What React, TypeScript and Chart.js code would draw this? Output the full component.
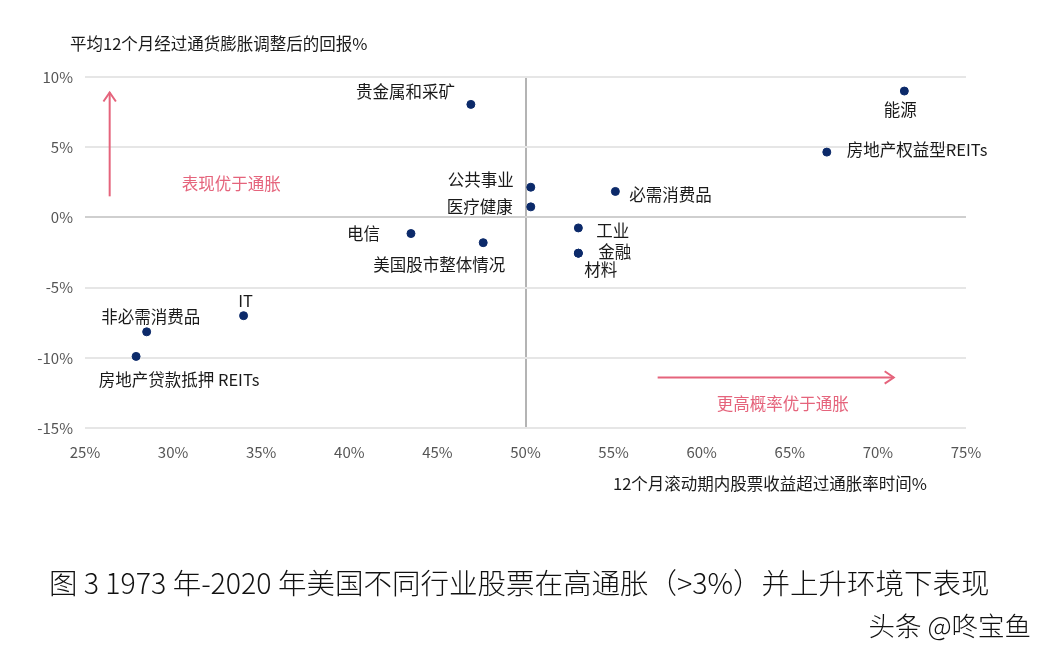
import React, { useEffect, useRef } from "react";
import { Chart, registerables } from "chart.js";

Chart.register(...registerables);

const sectors = [
  "能源",
  "房地产权益型REITs",
  "贵金属和采矿",
  "公共事业",
  "医疗健康",
  "必需消费品",
  "工业",
  "金融",
  "材料",
  "电信",
  "美国股市整体情况",
  "IT",
  "非必需消费品",
  "房地产贷款抵押 REITs",
];
const beatTimePct = [71.5, 67.1, 46.9, 50.3, 50.3, 55.1, 53.0, 53.0, 53.0, 43.5, 47.6, 34.0, 28.5, 27.9];
const realReturnPct = [9.0, 4.65, 8.05, 2.15, 0.75, 1.85, -0.75, -2.55, -2.55, -1.15, -1.8, -7.0, -8.15, -9.9];

const xTicks = [25, 30, 35, 40, 45, 50, 55, 60, 65, 70, 75];
const yTicks = [10, 5, 0, -5, -10, -15];

const yAxisTitle = "平均12个月经过通货膨胀调整后的回报%";
const xAxisTitle = "12个月滚动期内股票收益超过通胀率时间%";
const upNote = "表现优于通胀";
const rightNote = "更高概率优于通胀";
const caption = "图 3 1973 年-2020 年美国不同行业股票在高通胀（>3%）并上升环境下表现";
const watermark = "头条 @咚宝鱼";

// label placement style: [dx, dy, align]
const labelStyle: Record<string, [number, number, CanvasTextAlign]> = {
  "能源": [-4, 19, "center"],
  "房地产权益型REITs": [20, -2, "left"],
  "贵金属和采矿": [-16, -13, "right"],
  "公共事业": [-17, -7, "right"],
  "医疗健康": [-18, 0, "right"],
  "必需消费品": [14, 3, "left"],
  "工业": [18, 3, "left"],
  "金融": [20, -1, "left"],
  "材料": [6, 17, "left"],
  "电信": [-31, 0, "right"],
  "美国股市整体情况": [-44, 22, "center"],
  "IT": [2, -15, "center"],
  "非必需消费品": [4, -15, "center"],
  "房地产贷款抵押 REITs": [43, 23, "center"],
};

const FONT = "'Noto Sans CJK SC', 'Noto Sans', sans-serif";
const PINK = "#e5647c";

export default function App() {
  const ref = useRef<HTMLCanvasElement | null>(null);
  useEffect(() => {
    if (!ref.current) return;
    const annot = {
      id: "annot",
      afterDatasetsDraw(chart: any) {
        const { ctx, scales } = chart;
        const xs = scales.x, ys = scales.y;
        ctx.save();
        ctx.fillStyle = "#1a1a1a";
        ctx.font = `16.5px ${FONT}`;
        ctx.textBaseline = "middle";
        sectors.forEach((s, i) => {
          const st = labelStyle[s] || [10, 0, "left"];
          ctx.textAlign = st[2];
          ctx.fillText(s, xs.getPixelForValue(beatTimePct[i]) + st[0], ys.getPixelForValue(realReturnPct[i]) + st[1]);
        });
        // arrows
        const arrow = (x1: number, y1: number, x2: number, y2: number) => {
          ctx.strokeStyle = PINK;
          ctx.lineWidth = 2;
          ctx.beginPath();
          ctx.moveTo(x1, y1);
          ctx.lineTo(x2, y2);
          ctx.stroke();
          const ang = Math.atan2(y2 - y1, x2 - x1);
          const L = 11;
          ctx.beginPath();
          ctx.moveTo(x2 - L * Math.cos(ang - 0.6), y2 - L * Math.sin(ang - 0.6));
          ctx.lineTo(x2, y2);
          ctx.lineTo(x2 - L * Math.cos(ang + 0.6), y2 - L * Math.sin(ang + 0.6));
          ctx.stroke();
        };
        arrow(xs.getPixelForValue(26.4), ys.getPixelForValue(1.5), xs.getPixelForValue(26.4), ys.getPixelForValue(8.9));
        arrow(xs.getPixelForValue(57.5), ys.getPixelForValue(-11.4), xs.getPixelForValue(70.9), ys.getPixelForValue(-11.4));
        ctx.fillStyle = PINK;
        ctx.textAlign = "center";
        ctx.font = `16.5px ${FONT}`;
        ctx.fillText(upNote, xs.getPixelForValue(33.3), ys.getPixelForValue(2.4));
        ctx.fillText(rightNote, xs.getPixelForValue(64.6), ys.getPixelForValue(-13.25));
        // axis titles
        ctx.fillStyle = "#1a1a1a";
        ctx.font = `16.5px ${FONT}`;
        ctx.textAlign = "left";
        ctx.fillText(yAxisTitle, 70, 44);
        ctx.textAlign = "center";
        ctx.fillText(xAxisTitle, 770, 484);
        // caption
        ctx.font = `300 28.5px ${FONT}`;
        ctx.textAlign = "left";
        ctx.fillStyle = "#111";
        ctx.fillText(caption, 49, 583);
        ctx.font = `300 26.5px ${FONT}`;
        ctx.textAlign = "right";
        ctx.fillText(watermark, 1031, 626);
        ctx.restore();
      },
    };
    const chart = new Chart(ref.current, {
      type: "scatter",
      data: {
        datasets: [
          {
            data: beatTimePct.map((x, i) => ({ x, y: realReturnPct[i] })),
            backgroundColor: "#0c2a6a",
            borderColor: "#0c2a6a",
            pointRadius: 4,
          },
        ],
      },
      options: {
        animation: false,
        responsive: false,
        devicePixelRatio: 1,
        layout: { padding: { left: 25, top: 77, right: 85, bottom: 199 } },
        plugins: { legend: { display: false }, tooltip: { enabled: false } },
        scales: {
          x: {
            type: "linear",
            min: 25,
            max: 75,
            afterBuildTicks: (s: any) => { s.ticks = xTicks.map((v) => ({ value: v })); },
            afterFit: (s: any) => { s.height = 30; },
            border: { display: false },
            grid: {
              drawTicks: false,
              lineWidth: 2,
              color: (c: any) => (c.tick && c.tick.value === 50 ? "#b4b4b4" : "rgba(0,0,0,0)"),
            },
            ticks: {
              padding: 15,
              color: "#555",
              font: { family: FONT, size: 15 },
              callback: (v: any) => `${v}%`,
            },
          },
          y: {
            type: "linear",
            min: -15,
            max: 10,
            afterBuildTicks: (s: any) => { s.ticks = yTicks.map((v) => ({ value: v })); },
            afterFit: (s: any) => { s.width = 60; },
            border: { display: false },
            grid: {
              drawTicks: false,
              lineWidth: 2,
              color: (c: any) => (c.tick && c.tick.value === 0 ? "#cfcfcf" : "#e6e6e6"),
            },
            ticks: {
              padding: 12,
              color: "#555",
              font: { family: FONT, size: 15 },
              callback: (v: any) => `${v}%`,
            },
          },
        },
      },
      plugins: [annot],
    });
    return () => chart.destroy();
  }, []);
  return (
    <div style={{ position: "absolute", left: 0, top: 0, width: 1051, height: 657, background: "#fff" }}>
      <canvas ref={ref} width={1051} height={657} style={{ width: 1051, height: 657 }} />
    </div>
  );
}
